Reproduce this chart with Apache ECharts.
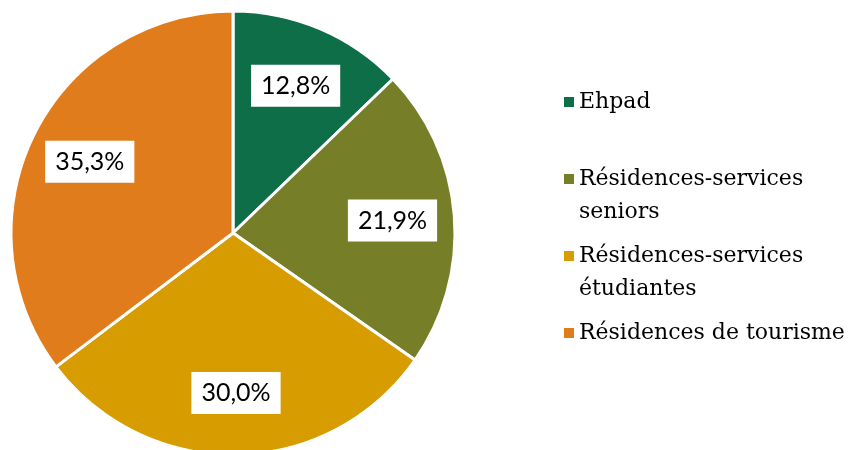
<!DOCTYPE html>
<html>
<head>
<meta charset="utf-8">
<script src="https://cdn.jsdelivr.net/npm/echarts@6/dist/echarts.min.js"></script>
<style>
  html, body { margin: 0; background: #fff; }
  #chart { width: 853px; height: 450px; }
</style>
</head>
<body>
<div id="chart"></div>
<script>
// parts of the total, in %
const categories = ['Ehpad', 'Résidences-services seniors', 'Résidences-services étudiantes', 'Résidences de tourisme']
const legendLines = [['Ehpad'], ['Résidences-services', 'seniors'], ['Résidences-services', 'étudiantes'], ['Résidences de tourisme']]
const shares = [12.8, 21.9, 30.0, 35.3]
const colors = ['#0D6E48', '#767E28', '#D69C00', '#E07C1B']

const LINE_H = 33
const pieData = categories.map((name, i) => ({ name, value: shares[i] }))

// every legend entry is a 3-line block so its first text line sits on the marker
function legendText(name) {
  const lines = legendLines[categories.indexOf(name)].slice()
  lines.unshift(' ')
  while (lines.length < 3) lines.push(' ')
  return lines.map(l => '{t|' + l + '}').join('\n')
}

const chart = echarts.init(document.getElementById('chart'))
chart.setOption({
  animation: false,
  color: colors,
  legend: {
    orient: 'vertical',
    left: 564,
    top: 58,
    padding: 0,
    itemGap: -11,
    itemWidth: 10,
    itemHeight: 10,
    icon: 'rect',
    itemStyle: { borderWidth: 0 },
    data: categories,
    formatter: legendText,
    textStyle: {
      rich: {
        t: { fontFamily: 'DejaVu Serif', fontSize: 22, lineHeight: LINE_H, color: '#000' },
      },
    },
  },
  series: [
    {
      type: 'pie',
      center: [233, 233],
      radius: 222,
      startAngle: 90,
      data: pieData,
      label: { show: false },
      labelLine: { show: false },
      itemStyle: { borderColor: '#fff', borderWidth: 3 },
      emphasis: { disabled: true },
    },
    {
      // label ring only
      type: 'pie',
      center: [233, 233],
      radius: 314,
      startAngle: 90,
      silent: true,
      avoidLabelOverlap: false,
      data: pieData,
      itemStyle: { color: 'rgba(0,0,0,0)', borderWidth: 0 },
      labelLine: { show: false },
      label: {
        show: true,
        position: 'inside',
        formatter: p => p.value.toFixed(1).replace('.', ',') + '%',
        fontFamily: 'Lato',
        fontSize: 25,
        color: '#000',
        backgroundColor: '#fff',
        padding: [9, 10, 8, 10],
      },
      emphasis: { disabled: true },
    },
  ],
})
</script>
</body>
</html>
